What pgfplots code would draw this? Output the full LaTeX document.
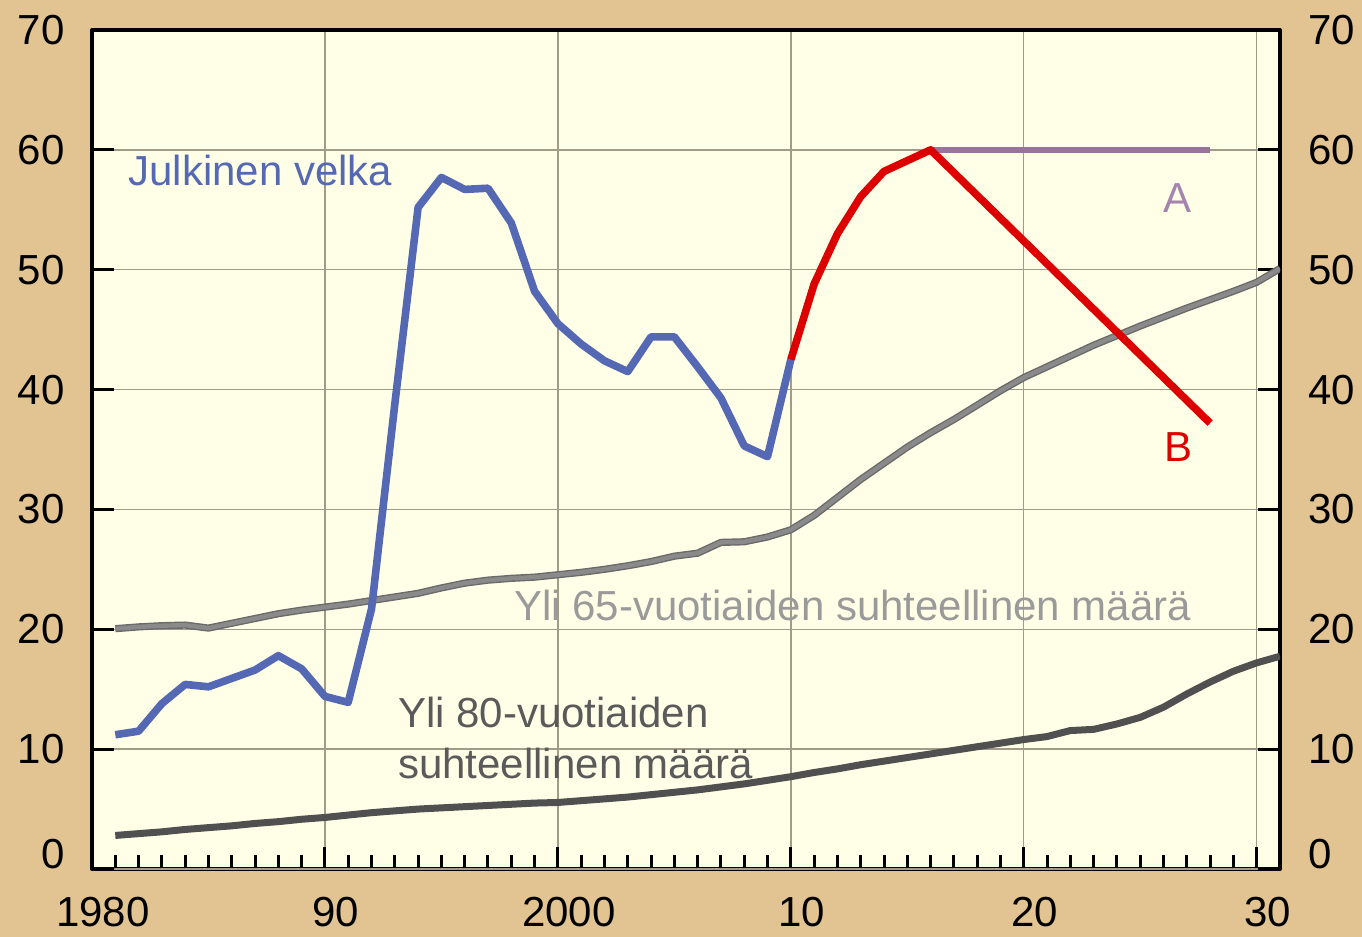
\documentclass[border=0pt]{standalone}
\usepackage{fontspec}
\setmainfont{Liberation Sans}
\usepackage{pgfplots}
\usepackage{pgfplotstable}
\pgfplotsset{compat=1.18}
\definecolor{bgtan}{HTML}{E2C492}
\definecolor{plotbg}{HTML}{FFFFE8}
\definecolor{gridc}{HTML}{A09C88}
\definecolor{debtblue}{HTML}{5568B4}
\definecolor{projred}{HTML}{DD0000}
\definecolor{purpA}{HTML}{9A739C}
\definecolor{txtA}{HTML}{A585AD}
\definecolor{greyL}{HTML}{8A8A8A}
\definecolor{greyLedge}{HTML}{6A6A6A}
\definecolor{greyD}{HTML}{505050}
\definecolor{txtL}{HTML}{9A9A9A}
\definecolor{txtD}{HTML}{5A5A5A}

\pgfplotstableread{
x y
1981 20.05
1982 20.2
1983 20.3
1984 20.35
1985 20.1
1986 20.5
1987 20.9
1988 21.3
1989 21.6
1990 21.85
1991 22.1
1992 22.4
1993 22.7
1994 23.0
1995 23.45
1996 23.85
1997 24.1
1998 24.25
1999 24.35
2000 24.55
2001 24.75
2002 25.0
2003 25.3
2004 25.65
2005 26.1
2006 26.35
2007 27.25
2008 27.3
2009 27.7
2010 28.3
2011 29.5
2012 31.0
2013 32.5
2014 33.85
2015 35.2
2016 36.4
2017 37.5
2018 38.7
2019 39.9
2020 41.0
2021 41.9
2022 42.8
2023 43.7
2024 44.5
2025 45.3
2026 46.05
2027 46.8
2028 47.5
2029 48.2
2030 48.95
2031 50.1
}\oversixtyfive

\begin{document}
\begin{tikzpicture}[font=\fontsize{21}{25.5}\selectfont]
\fill[bgtan] (-46pt,-34pt) rectangle (635pt,434.5pt);
\begin{axis}[
  at={(0pt,0pt)}, anchor=south west,
  scale only axis, width=594pt, height=419.5pt,
  xmin=1980, xmax=2031, ymin=0, ymax=70,
  axis background/.style={fill=plotbg},
  axis line style={line width=2pt, black},
  xtick={1980,1990,...,2030},
  xticklabels={1980,90,2000,10,20,30},
  minor x tick num=9,
  xtick pos=bottom, ytick pos=both,
  ytick={10,20,...,70}, yticklabel pos=left,
  extra y ticks={0},
  extra y tick style={yticklabel style={yshift=7.5pt}},
  major tick length=11pt, minor tick length=7pt,
  tick style={line width=1.5pt, black},
  xmajorgrids, ymajorgrids,
  major grid style={line width=0.7pt, gridc},
  xticklabel style={inner ysep=0pt, yshift=-14pt, xshift=5.5pt},
  yticklabel style={inner xsep=0pt, xshift=-13.5pt},
  /pgf/number format/assume math mode=true,
  line join=round,
]
% Yli 65-vuotiaiden suhteellinen maara (outlined grey line)
\addplot[greyLedge, line width=3.6pt, mark=none] table[x=x, y=y] {\oversixtyfive};
\addplot[greyL, line width=2.2pt, mark=none] table[x=x, y=y] {\oversixtyfive};
% Yli 80-vuotiaiden suhteellinen maara
\addplot[greyD, line width=3.5pt, mark=none] coordinates {
(1981,2.8)(1982,2.95)(1983,3.1)(1984,3.3)(1985,3.45)(1986,3.6)(1987,3.8)(1988,3.95)
(1989,4.15)(1990,4.3)(1991,4.5)(1992,4.7)(1993,4.85)(1994,5.0)(1995,5.1)(1996,5.2)
(1997,5.3)(1998,5.4)(1999,5.5)(2000,5.55)(2001,5.7)(2002,5.85)(2003,6.0)(2004,6.2)
(2005,6.4)(2006,6.6)(2007,6.85)(2008,7.1)(2009,7.4)(2010,7.7)(2011,8.05)(2012,8.35)
(2013,8.7)(2014,9.0)(2015,9.3)(2016,9.6)(2017,9.9)(2018,10.2)(2019,10.5)(2020,10.8)
(2021,11.05)(2022,11.55)(2023,11.65)(2024,12.1)(2025,12.65)(2026,13.5)(2027,14.6)
(2028,15.6)(2029,16.5)(2030,17.2)(2031,17.75)};
% Julkinen velka
\addplot[debtblue, line width=3.8pt, mark=none] coordinates {
(1981,11.2)(1982,11.5)(1983,13.8)(1984,15.4)(1985,15.2)(1986,15.9)(1987,16.6)
(1988,17.8)(1989,16.7)(1990,14.4)(1991,13.9)(1992,21.7)(1993,38.8)(1994,55.2)
(1995,57.7)(1996,56.7)(1997,56.8)(1998,53.9)(1999,48.2)(2000,45.5)(2001,43.8)
(2002,42.4)(2003,41.5)(2004,44.4)(2005,44.4)(2006,41.9)(2007,39.3)(2008,35.3)
(2009,34.4)(2010,42.5)};
% Scenario A
\addplot[purpA, line width=3.3pt, mark=none] coordinates {(2016,60.0)(2028,60.0)};
% Projection and scenario B
\addplot[projred, line width=3.8pt, mark=none] coordinates {
(2010,42.5)(2011,48.8)(2012,53.0)(2013,56.1)(2014,58.2)(2015,59.1)(2016,60.0)(2028,37.2)};
\node[anchor=base west, inner sep=0pt, text=debtblue] at (axis cs:1981.55,57.0) {Julkinen velka};
\node[anchor=base, inner sep=0pt, text=txtA] at (axis cs:2026.6,54.8) {A};
\node[anchor=base, inner sep=0pt, text=projred] at (axis cs:2026.65,34.0) {B};
\node[anchor=base west, inner sep=0pt, text=txtL] at (axis cs:1998.1,20.75) {Yli 65-vuotiaiden suhteellinen määrä};
\node[anchor=base west, inner sep=0pt, text=txtD] at (axis cs:1993.13,11.84) {Yli 80-vuotiaiden};
\node[anchor=base west, inner sep=0pt, text=txtD] at (axis cs:1993.13,7.53) {suhteellinen määrä};
\end{axis}
\begin{axis}[
  at={(0pt,0pt)}, anchor=south west,
  scale only axis, width=594pt, height=419.5pt,
  xmin=1980, xmax=2031, ymin=0, ymax=70,
  axis line style={draw=none}, tick style={draw=none},
  xtick=\empty, ytick={10,20,...,70}, yticklabel pos=right,
  extra y ticks={0},
  extra y tick style={yticklabel style={yshift=7.5pt}},
  yticklabel style={inner xsep=0pt, xshift=14pt},
  /pgf/number format/assume math mode=true,
]
\end{axis}
\end{tikzpicture}
\end{document}
